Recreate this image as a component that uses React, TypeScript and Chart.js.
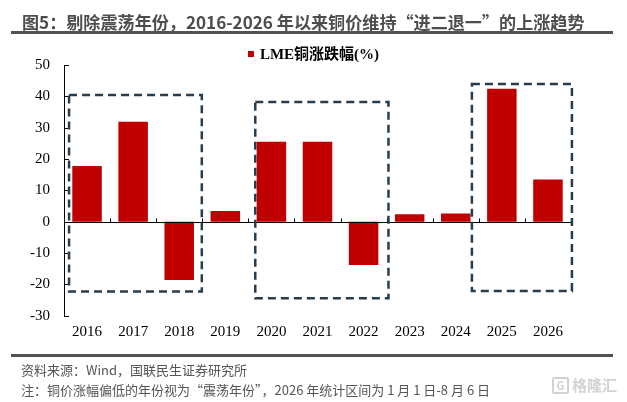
import React, { useEffect, useRef } from "react";
import { Chart, registerables } from "chart.js";

Chart.register(...registerables);

// ---- data ----
const years = ["2016", "2017", "2018", "2019", "2020", "2021", "2022", "2023", "2024", "2025", "2026"];
const copperChange = [17.8, 31.9, -18.6, 3.4, 25.5, 25.5, -13.8, 2.4, 2.6, 42.4, 13.5];
const seriesLabel = "LME铜涨跌幅(%)";
const yMin = -30;
const yMax = 50;
const yStep = 10;
// dashed "进二退一" groups, in category-index / value units
const boxFromIdx = [-0.39, 3.65, 8.35];
const boxToIdx = [2.49, 6.54, 10.52];
const boxUpper = [40.4, 38.2, 43.9];
const boxLower = [-22.3, -24.4, -22.1];

const SERIF = '"Liberation Serif", "Times New Roman", "Noto Sans CJK SC", serif';
const SANS = '"Noto Sans CJK SC", "Microsoft YaHei", sans-serif';
const BAR_COLOR = "#C00000";

const overlayPlugin = {
  id: "overlay",
  afterDatasetsDraw(chart: any) {
    const { ctx, chartArea } = chart;
    const x = chart.scales.x;
    const y = chart.scales.y;
    ctx.save();
    ctx.strokeStyle = "#000";
    ctx.lineWidth = 1;
    ctx.setLineDash([]);
    // zero line
    const zy = Math.round(y.getPixelForValue(0)) + 0.5;
    ctx.beginPath();
    ctx.moveTo(chartArea.left, zy);
    ctx.lineTo(chartArea.right, zy);
    // x tick marks at category boundaries
    for (let i = 0; i < years.length; i++) {
      const px = Math.round(x.getPixelForValue(i + 0.5)) + 0.5;
      ctx.moveTo(px, zy);
      ctx.lineTo(px, zy - 4);
    }
    // y tick marks (inside)
    y.ticks.forEach((t: any) => {
      const py = Math.round(y.getPixelForValue(t.value)) + 0.5;
      ctx.moveTo(chartArea.left, py);
      ctx.lineTo(chartArea.left + 5, py);
    });
    ctx.stroke();

    // dashed boxes
    ctx.setLineDash([8, 5]);
    ctx.lineWidth = 2.5;
    ctx.strokeStyle = "#263d50";
    for (let b = 0; b < boxFromIdx.length; b++) {
      const x1 = x.getPixelForValue(boxFromIdx[b]);
      const x2 = x.getPixelForValue(boxToIdx[b]);
      const y1 = y.getPixelForValue(boxUpper[b]);
      const y2 = y.getPixelForValue(boxLower[b]);
      ctx.strokeRect(x1, y1, x2 - x1, y2 - y1);
    }
    ctx.restore();
  },
  afterDraw(chart: any) {
    // legend
    const { ctx } = chart;
    const ds = chart.data.datasets[0];
    ctx.save();
    ctx.font = `bold 15px ${SERIF}`;
    const label = ds.label as string;
    const tw = ctx.measureText(label).width;
    const box = 6;
    const gap = 6;
    const total = box + gap + tw;
    const cx = chart.width / 2;
    const startX = cx - total / 2;
    const cy = 54;
    ctx.fillStyle = ds.backgroundColor;
    ctx.fillRect(startX, cy - box / 2, box, box);
    ctx.fillStyle = "#000";
    ctx.textBaseline = "middle";
    ctx.textAlign = "left";
    ctx.fillText(label, startX + box + gap, cy + 1);
    ctx.restore();
  },
};

function CopperChart() {
  const ref = useRef<HTMLCanvasElement | null>(null);
  useEffect(() => {
    if (!ref.current) return;
    const chart = new Chart(ref.current, {
      type: "bar",
      data: {
        labels: years,
        datasets: [
          {
            label: seriesLabel,
            data: copperChange,
            backgroundColor: BAR_COLOR,
            borderWidth: 0,
            categoryPercentage: 1,
            barPercentage: 0.64,
          },
        ],
      },
      options: {
        animation: false,
        responsive: false,
        devicePixelRatio: 1,
        layout: { padding: { top: 65, right: 56, bottom: 0, left: 0 } },
        plugins: {
          legend: { display: false },
          tooltip: { enabled: false },
          title: { display: false },
        },
        scales: {
          x: {
            grid: { display: false, drawTicks: false },
            border: { display: false },
            ticks: {
              color: "#000",
              padding: 7,
              font: { family: SERIF, size: 15 },
              maxRotation: 0,
              autoSkip: false,
            },
            afterFit: (s: any) => {
              s.height = 86.3;
            },
          },
          y: {
            min: yMin,
            max: yMax,
            grid: { display: false, drawTicks: false },
            border: { display: true, color: "#000", width: 1 },
            ticks: {
              stepSize: yStep,
              color: "#000",
              padding: 14,
              font: { family: SERIF, size: 15 },
            },
            afterFit: (s: any) => {
              s.width = 64;
            },
          },
        },
      },
      plugins: [overlayPlugin],
    } as any);
    return () => chart.destroy();
  }, []);
  return <canvas ref={ref} width={627} height={402} style={{ position: "absolute", left: 0, top: 0 }} />;
}

export default function App() {
  return (
    <div
      style={{
        position: "fixed",
        left: 0,
        top: 0,
        width: 627,
        height: 402,
        background: "#fff",
        overflow: "hidden",
      }}
    >
      <CopperChart />
      <div
        style={{
          position: "absolute",
          left: 22,
          top: 12,
          lineHeight: "20px",
          fontFamily: SANS,
          fontWeight: 700,
          fontSize: 17.1,
          color: "#4d4d4d",
          whiteSpace: "nowrap",
        }}
      >
        图5：剔除震荡年份，2016-2026 年以来铜价维持“进二退一”的上涨趋势
      </div>
      <div style={{ position: "absolute", left: 11, top: 31, width: 602, height: 3, background: "#525252" }} />
      <div style={{ position: "absolute", left: 11, top: 354, width: 602, height: 3, background: "#525252" }} />
      <div
        style={{
          position: "absolute",
          left: 21,
          top: 361,
          lineHeight: "18px",
          fontFamily: SANS,
          fontSize: 13,
          color: "#555",
          whiteSpace: "nowrap",
        }}
      >
        资料来源：Wind，国联民生证券研究所
      </div>
      <div
        style={{
          position: "absolute",
          left: 21,
          top: 381,
          lineHeight: "18px",
          fontFamily: SANS,
          fontSize: 13,
          color: "#555",
          whiteSpace: "nowrap",
        }}
      >
        注：铜价涨幅偏低的年份视为“震荡年份”，2026 年统计区间为 1 月 1 日-8 月 6 日
      </div>
      <div
        style={{
          position: "absolute",
          left: 552,
          top: 376,
          display: "flex",
          alignItems: "center",
          gap: 3,
          color: "#d2d2d2",
          fontFamily: SANS,
          fontWeight: 700,
          fontSize: 15,
          lineHeight: "18px",
          whiteSpace: "nowrap",
        }}
      >
        <span
          style={{
            display: "inline-block",
            width: 13,
            height: 13,
            border: "2px solid #d2d2d2",
            borderRadius: 2,
            fontSize: 11,
            lineHeight: "13px",
            textAlign: "center",
          }}
        >
          G
        </span>
        <span>格隆汇</span>
      </div>
    </div>
  );
}
